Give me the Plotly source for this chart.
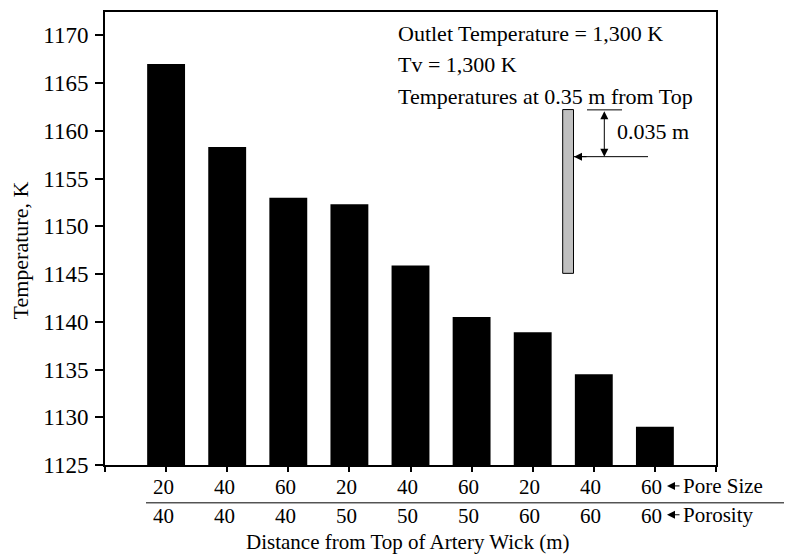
import plotly.graph_objects as go

# ---- data ----
positions = [1, 2, 3, 4, 5, 6, 7, 8, 9]
temperatures = [1167.0, 1158.3, 1153.0, 1152.3, 1145.9, 1140.5, 1138.9, 1134.5, 1129.0]
pore_size = ["20", "40", "60", "20", "40", "60", "20", "40", "60"]
porosity = ["40", "40", "40", "50", "50", "50", "60", "60", "60"]
y_ticks = [1125, 1130, 1135, 1140, 1145, 1150, 1155, 1160, 1165, 1170]
x_ticks = [0, 1, 2, 3, 4, 5, 6, 7, 8, 9, 10]
info_lines = ["Outlet Temperature = 1,300 K", "Tv = 1,300 K", "Temperatures at 0.35 m from Top"]

FONT = "Liberation Serif"
OFF = 8  # default page body margin
W, H = 792 - OFF, 558 - OFF
L, R, T, B = 105, 716, 10, 465  # plot area in window pixels


def px(xp):
    return (xp - L) / (R - L)


def py(yp):
    return (B - yp) / (B - T)


fig = go.Figure()
fig.add_trace(go.Bar(x=positions, y=temperatures, width=0.62,
                     marker=dict(color="black", line=dict(width=0)),
                     showlegend=False))

annotations = []
shapes = []

# bottom category rows
for xv, ps, po in zip(positions, pore_size, porosity):
    annotations.append(dict(x=xv - 0.05, xref="x", y=0, yref="paper", yshift=-(487 - B),
                            text=ps, showarrow=False, xanchor="center", yanchor="middle",
                            font=dict(family=FONT, size=21, color="black")))
    annotations.append(dict(x=xv - 0.05, xref="x", y=0, yref="paper", yshift=-(515.5 - B),
                            text=po, showarrow=False, xanchor="center", yanchor="middle",
                            font=dict(family=FONT, size=21, color="black")))

# row labels with arrows
for label, yp in [("Pore Size", 486), ("Porosity", 515)]:
    annotations.append(dict(x=px(681), xref="paper", y=py(yp), yref="paper",
                            text=label, showarrow=False, xanchor="left", yanchor="middle",
                            font=dict(family=FONT, size=21, color="black")))
    annotations.append(dict(x=px(667), xref="paper", y=py(yp), yref="paper", text="",
                            showarrow=True, ax=14, ay=0, axref="pixel", ayref="pixel",
                            arrowhead=2, arrowsize=1.6, arrowwidth=1, arrowcolor="black",
                            standoff=0))

shapes.append(dict(type="line", xref="paper", yref="paper", x0=px(146), x1=px(785),
                   y0=py(503), y1=py(503), line=dict(color="black", width=1)))

# axis titles
annotations.append(dict(x=0.5, xref="paper", xshift=-3, y=0, yref="paper", yshift=-(542 - B),
                        text="Distance from Top of Artery Wick (m)", showarrow=False,
                        xanchor="center", yanchor="middle",
                        font=dict(family=FONT, size=21, color="black")))
annotations.append(dict(x=px(20.5), xref="paper", y=py(250), yref="paper",
                        text="Temperature, K", textangle=-90, showarrow=False,
                        xanchor="center", yanchor="middle", borderpad=0,
                        font=dict(family=FONT, size=22, color="black")))

# info text
for line, yp in zip(info_lines, [32, 63, 95]):
    annotations.append(dict(x=px(396), xref="paper", y=py(yp), yref="paper", text=line,
                            showarrow=False, xanchor="left", yanchor="middle",
                            font=dict(family=FONT, size=22, color="black")))

# wick diagram
shapes.append(dict(type="rect", xref="paper", yref="paper", x0=px(562.7), x1=px(573.5),
                   y0=py(272.5), y1=py(108), fillcolor="#c0c0c0",
                   line=dict(color="black", width=1)))
shapes.append(dict(type="line", xref="paper", yref="paper", x0=px(587), x1=px(622),
                   y0=py(108.3), y1=py(108.3), line=dict(color="black", width=1)))
shapes.append(dict(type="line", xref="paper", yref="paper", x0=px(574), x1=px(648),
                   y0=py(155.3), y1=py(155.3), line=dict(color="black", width=1)))
annotations.append(dict(x=px(574), xref="paper", y=py(155.3), yref="paper", text="",
                        showarrow=True, ax=14, ay=0, axref="pixel", ayref="pixel",
                        arrowhead=2, arrowsize=1.6, arrowwidth=1, arrowcolor="black",
                        standoff=0))
annotations.append(dict(x=px(604.3), xref="paper", y=py(155.3), yref="paper", text="",
                        showarrow=True, ax=0, ay=-47, axref="pixel", ayref="pixel",
                        arrowhead=2, startarrowhead=2, arrowside="end+start",
                        arrowsize=1.6, startarrowsize=1.6, arrowwidth=1,
                        arrowcolor="black", standoff=0, startstandoff=0))
annotations.append(dict(x=px(615), xref="paper", y=py(130), yref="paper", text="0.035 m",
                        showarrow=False, xanchor="left", yanchor="middle",
                        font=dict(family=FONT, size=22, color="black")))

fig.update_layout(
    width=W, height=H,
    margin=dict(l=L - OFF, r=W - (R - OFF), t=T - OFF, b=H - (B - OFF), pad=0),
    paper_bgcolor="white", plot_bgcolor="white",
    font=dict(family=FONT, size=22, color="black"),
    bargap=0.38,
    annotations=annotations, shapes=shapes,
    xaxis=dict(range=[0, 10], tickvals=x_ticks, ticktext=[""] * len(x_ticks),
               ticks="outside", ticklen=5, tickwidth=1.5, tickcolor="black",
               showline=True, linecolor="black", linewidth=2, mirror=True,
               showgrid=False, zeroline=False),
    yaxis=dict(range=[1125, 1172.45], tickvals=y_ticks,
               ticks="outside", ticklen=8, tickwidth=1.5, tickcolor="black",
               tickfont=dict(family=FONT, size=23, color="black"),
               ticklabelstandoff=2,
               showline=True, linecolor="black", linewidth=2, mirror=True,
               showgrid=False, zeroline=False),
)

fig.write_html("out.html")
